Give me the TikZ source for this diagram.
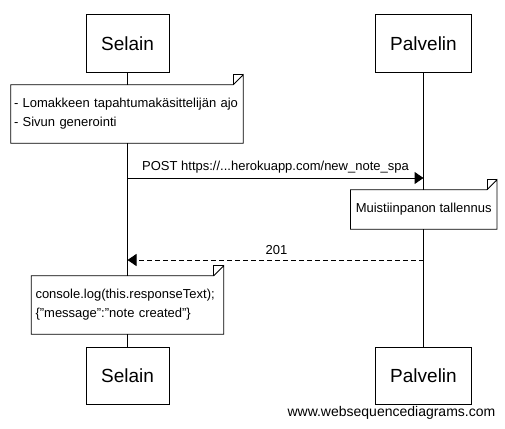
\documentclass[tikz,border=0pt]{standalone}
\usepackage{fontspec}
\setmainfont{Liberation Sans}
\usetikzlibrary{arrows.meta}
\begin{document}
\begin{tikzpicture}[x=1pt,y=-1pt,
  actor/.style={draw=black, line width=1pt, fill=white, minimum height=57pt, inner sep=0pt, font=\fontsize{19}{22}\selectfont},
  notebox/.style={fill=white, inner ysep=0pt, inner xsep=0pt, font=\fontsize{13}{19}\selectfont},
  lifeline/.style={line width=1pt},
  msg/.style={line width=1pt, -{Triangle[length=9pt,width=12pt]}},
  reply/.style={msg, dash pattern=on 5pt off 3pt},
  lbl/.style={font=\fontsize{13}{15}\selectfont, inner sep=0pt},
  fold/.style={line width=0.8pt}
]
\useasboundingbox (0,0) rectangle (505,428);
\fill[white] (0,0) rectangle (505,428);

% actors
\node[actor, minimum width=83pt] (s1) at (127.5,43.5) {Selain};
\node[actor, minimum width=96pt] (p1) at (423.5,43.5) {Palvelin};
\node[actor, minimum width=83pt] (s2) at (127.5,375.8) {Selain};
\node[actor, minimum width=96pt] (p2) at (423.5,375.8) {Palvelin};

% lifelines
\draw[lifeline] (s1.south) -- (s2.north);
\draw[lifeline] (p1.south) -- (p2.north);

% note 1
\node[notebox, minimum width=232pt, minimum height=58pt, text width=226pt, align=left] (n1) at (127,114)
  {- Lomakkeen tapahtumakäsittelijän ajo\\- Sivun generointi};
\draw[fold] (n1.north west) -- ([xshift=-10pt]n1.north east) -- ([yshift=10pt]n1.north east) -- (n1.south east) -- (n1.south west) -- cycle;
\draw[fold] ([xshift=-10pt]n1.north east) -- ([xshift=-10pt,yshift=10pt]n1.north east) -- ([yshift=10pt]n1.north east);

% message POST
\draw[msg] (s1.south |- 0,178) coordinate (m1a) -- (p1.south |- 0,178) coordinate (m1b);
\node[lbl] (m1l) at (275.5,167) {POST https://...herokuapp.com/new\_note\_spa};

% note 2
\node[notebox, minimum width=146pt, minimum height=39pt] (n2) at (423.7,209.5) {Muistiinpanon tallennus};
\draw[fold] (n2.north west) -- ([xshift=-10pt]n2.north east) -- ([yshift=10pt]n2.north east) -- (n2.south east) -- (n2.south west) -- cycle;
\draw[fold] ([xshift=-10pt]n2.north east) -- ([xshift=-10pt,yshift=10pt]n2.north east) -- ([yshift=10pt]n2.north east);

% reply 201
\draw[reply] (p1.south |- 0,260) coordinate (r1a) -- (s1.south |- 0,260) coordinate (r1b);
\node[lbl] (r1l) at (276.5,250) {201};

% note 3
\node[notebox, minimum width=192pt, minimum height=58pt, text width=184pt, align=left] (n3) at (127.5,305)
  {console.log(this.responseText);\\\{"message":"note created"\}};
\draw[fold] (n3.north west) -- ([xshift=-10pt]n3.north east) -- ([yshift=10pt]n3.north east) -- (n3.south east) -- (n3.south west) -- cycle;
\draw[fold] ([xshift=-10pt]n3.north east) -- ([xshift=-10pt,yshift=10pt]n3.north east) -- ([yshift=10pt]n3.north east);

% footer
\node[font=\fontsize{14}{16}\selectfont, inner sep=0pt, anchor=east] (foot) at (495.5,413) {www.websequencediagrams.com};
\end{tikzpicture}
\end{document}
